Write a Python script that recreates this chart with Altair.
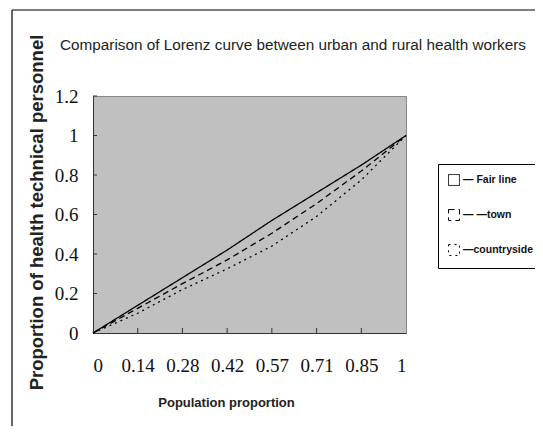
import altair as alt
import pandas as pd

x_labels = ["0", "0.14", "0.28", "0.42", "0.57", "0.71", "0.85", "1"]
x_pos = [0, 1, 2, 3, 4, 5, 6, 7]
fair = [0, 0.14, 0.28, 0.42, 0.57, 0.71, 0.85, 1.0]
town = [0, 0.125, 0.25, 0.37, 0.505, 0.655, 0.82, 1.0]
countryside = [0, 0.10, 0.22, 0.325, 0.44, 0.59, 0.775, 1.0]
series_names = ["Fair line", "town", "countryside"]
legend_labels = ["\u2014 Fair line", "\u2014 \u2014town", "\u2014countryside"]
y_ticks = [0, 0.2, 0.4, 0.6, 0.8, 1.0, 1.2]
title_text = "Comparison of Lorenz curve between urban and rural health workers"

rows = []
for name, vals in zip(series_names, [fair, town, countryside]):
    for p, v in zip(x_pos, vals):
        rows.append({"pos": p, "value": v, "series": name})
df = pd.DataFrame(rows)

W, H = 313, 237
label_arr = "[" + ",".join("'%s'" % l for l in x_labels) + "]"
leg_map = "{" + ",".join("'%s':'%s'" % (n, l) for n, l in zip(series_names, legend_labels)) + "}"

xscale = alt.Scale(domain=[0, 7], nice=False, zero=False)
yscale = alt.Scale(domain=[0, 1.2], nice=False)

x_axis = alt.Axis(values=x_pos, labelExpr=label_arr + "[datum.value]",
                  ticks=False, grid=False, labelFont="Liberation Serif",
                  labelFontSize=19, labelColor="#111", labelPadding=23,
                  labelOverlap=False,
                  domainColor="#333", title="Population proportion",
                  titleFont="Liberation Sans", titleFontSize=13,
                  titleFontWeight="bold", titleColor="#222",
                  titleX=133, titleY=69, titleBaseline="middle")
y_axis = alt.Axis(values=y_ticks, format="~g", ticks=False, grid=False,
                  labelFont="Liberation Serif", labelFontSize=19,
                  labelColor="#111", labelPadding=15, domainColor="#333",
                  labelOverlap=False,
                  title="Proportion of health technical personnel",
                  titleFont="Liberation Sans", titleFontSize=18.5,
                  titleFontWeight="bold", titleColor="#222",
                  titleX=-57, titleY=116, titleBaseline="middle")

lines = alt.Chart(df).mark_line(color="black", strokeWidth=1.3).encode(
    x=alt.X("pos:Q", scale=xscale, axis=x_axis, title="Population proportion"),
    y=alt.Y("value:Q", scale=yscale, axis=y_axis,
            title="Proportion of health technical personnel"),
    strokeDash=alt.StrokeDash(
        "series:N",
        scale=alt.Scale(domain=series_names, range=[[1, 0], [6, 4], [2, 4]]),
        legend=alt.Legend(title=None, orient="none", legendX=345, legendY=68,
                          symbolType="square", symbolSize=120,
                          symbolFillColor="transparent", symbolStrokeColor="black",
                          symbolStrokeWidth=1, labelExpr=leg_map + "[datum.label]",
                          labelFont="Liberation Sans", labelFontSize=10.5,
                          labelFontWeight="bold", labelColor="#111",
                          labelOffset=3, rowPadding=19, padding=10,
                          strokeColor="black", fillColor="white")),
)

xt = pd.DataFrame({"pos": x_pos[1:-1]})
x_ticks = alt.Chart(xt).mark_rule(color="#333", strokeWidth=1).encode(
    x=alt.X("pos:Q", scale=xscale, axis=x_axis, title="Population proportion"),
    y=alt.value(H), y2=alt.value(H - 5))

yt = pd.DataFrame({"value": y_ticks[1:]})
y_ticks_m = alt.Chart(yt).mark_rule(color="#333", strokeWidth=1).encode(
    y=alt.Y("value:Q", scale=yscale, axis=y_axis,
            title="Proportion of health technical personnel"),
    x=alt.value(0), x2=alt.value(4))

one = pd.DataFrame({"t": [title_text]})
title_m = alt.Chart(one).mark_text(
    font="Liberation Sans", fontSize=15.3, color="#222", align="left", baseline="middle"
).encode(text="t:N", x=alt.value(-33), y=alt.value(-51))

frame_top = alt.Chart(one).mark_rule(color="black", strokeWidth=1.2).encode(
    x=alt.value(-81), x2=alt.value(460), y=alt.value(-86))
frame_left = alt.Chart(one).mark_rule(color="black", strokeWidth=1.2).encode(
    x=alt.value(-81), y=alt.value(-86), y2=alt.value(360))

chart = alt.layer(lines, frame_top, frame_left, title_m, x_ticks, y_ticks_m).properties(
    width=W, height=H,
    autosize=alt.AutoSizeParams(type="none"),
    padding={"left": 85, "top": 88, "right": 129, "bottom": 93},
).configure_view(fill="#c0c0c0", stroke="#888", strokeWidth=1)

chart.save("out.html", embed_options={"renderer": "svg", "actions": False})
